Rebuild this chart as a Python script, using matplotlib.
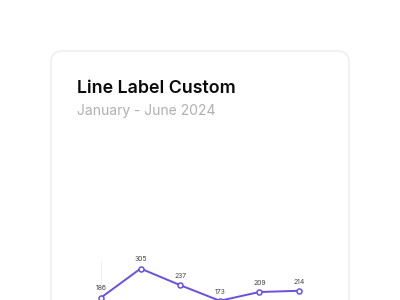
import matplotlib
matplotlib.use("Agg")
import matplotlib.pyplot as plt
from matplotlib.patches import FancyBboxPatch

months = ["January", "February", "March", "April", "May", "June"]
visitors = [186, 305, 237, 173, 209, 214]

LINE = "#6a4fe0"
DPI = 100
W, H = 400, 300

fig = plt.figure(figsize=(W / DPI, H / DPI), dpi=DPI)
fig.patch.set_facecolor("white")

# background layer in pixel coords (y down) for the card + header text
bg = fig.add_axes([0, 0, 1, 1])
bg.set_xlim(0, W)
bg.set_ylim(H, 0)
bg.set_axis_off()

# soft shadow then card
for i, a in enumerate([0.015, 0.01]):
    bg.add_patch(FancyBboxPatch((51 - i, 52 - i), 298 + 2 * i, 320 + 2 * i,
                                boxstyle="round,pad=0,rounding_size=12",
                                fc="none", ec="black", lw=1.2, alpha=a, zorder=1))
bg.add_patch(FancyBboxPatch((51, 51), 298, 320,
                            boxstyle="round,pad=0,rounding_size=12",
                            fc="white", ec="#ececec", lw=0.9, zorder=2))

bg.text(77, 93, "Line Label Custom", fontsize=12.8, fontweight="semibold",
        family=["Inter", "DejaVu Sans"], color="#0a0a0a", va="baseline", zorder=3)
bg.text(77, 115, "January - June 2024", fontsize=10, family=["Inter", "DejaVu Sans"],
        color="#b0b0b0", va="baseline", zorder=3)

# chart area: pixels x 77..323, y 150..343 (runs off the bottom of the image)
left, right, top, bottom = 77, 323, 150, 343
ax = fig.add_axes([left / W, 1 - bottom / H, (right - left) / W, (bottom - top) / H])
ax.set_facecolor("none")
ax.set_zorder(5)
pad = 0.606
ax.set_xlim(-pad, len(months) - 1 + pad)
ax.set_ylim(0, (bottom - top) / 0.244)
for s in ax.spines.values():
    s.set_visible(False)
ax.set_xticks([])
ax.set_yticks([])

# faint vertical grid line at the first category
ax.axvline(0, ymax=(bottom - 262) / (bottom - top), color="#efefef", lw=0.8, zorder=0)

x = list(range(len(months)))
ax.plot(x, visitors, color=LINE, lw=1.4, marker="o", ms=3.6,
        mfc="white", mec=LINE, mew=1.1, zorder=3)
for xi, v in zip(x, visitors):
    ax.annotate(str(v), (xi, v), xytext=(0, 4.5), textcoords="offset points",
                ha="center", va="bottom", fontsize=4.9,
                family=["Inter", "DejaVu Sans"], color="#444444", zorder=4)

fig.savefig("out.png", dpi=DPI, facecolor="white")
